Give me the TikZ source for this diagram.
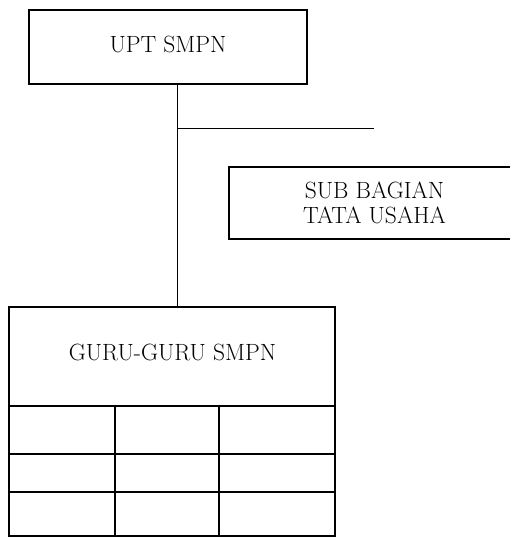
\documentclass[tikz,border=0pt]{standalone}
\begin{document}
\begin{tikzpicture}[x=1pt,y=-1pt,
  box/.style={draw,line width=1.3pt,inner sep=0pt,outer sep=0pt},
  conn/.style={line width=0.8pt},
  grid/.style={line width=1.4pt},
  lbl/.style={font=\fontsize{23.5}{25}\selectfont,align=center,inner sep=0pt}]
\useasboundingbox (0,0) rectangle (510,537);
% top box
\node[box,minimum width=278pt,minimum height=74pt] (upt) at (168,47) {};
\node[lbl] (upttext) at (168,44) {UPT SMPN};
% junction
\coordinate (j) at (177,128);
\coordinate (hend) at (374,128);
% sub bagian (open to the right edge)
\coordinate (s1) at (510,167);
\coordinate (s2) at (229,167);
\coordinate (s3) at (229,239);
\coordinate (s4) at (510,239);
\draw[line width=1.1pt] (s1) -- (s2) -- (s3) -- (s4);
\node[lbl] (sub) at (374.5,203) {SUB BAGIAN\\TATA USAHA};
% guru box
\node[box,minimum width=326pt,minimum height=229pt] (guru) at (172,421.5) {};
\node[lbl] (gurutext) at (172.5,352) {GURU-GURU SMPN};
% table lines
\coordinate (r1l) at (9,406);  \coordinate (r1r) at (335,406);
\coordinate (r2l) at (9,454);  \coordinate (r2r) at (335,454);
\coordinate (r3l) at (9,492);  \coordinate (r3r) at (335,492);
\coordinate (c1t) at (115,406); \coordinate (c1b) at (115,536);
\coordinate (c2t) at (219,406); \coordinate (c2b) at (219,536);
\draw[grid] (r1l) -- (r1r);
\draw[grid] (r2l) -- (r2r);
\draw[grid] (r3l) -- (r3r);
\draw[grid] (c1t) -- (c1b);
\draw[grid] (c2t) -- (c2b);
% connectors
\draw[conn] (upt.south -| j) -- (guru.north -| j);
\draw[conn] (j) -- (hend);
\end{tikzpicture}
\end{document}
